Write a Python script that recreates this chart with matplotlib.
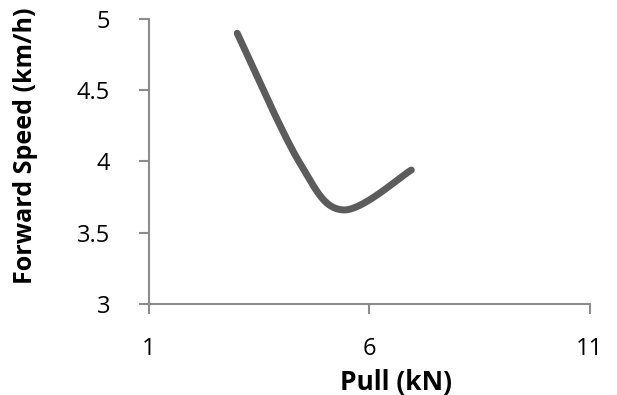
import matplotlib
matplotlib.use("Agg")
import matplotlib.pyplot as plt
import numpy as np

# data
pull_kn = [3.0, 4.4, 5.4, 6.95]
speed_kmh = [4.9, 4.0, 3.66, 3.94]
x_ticks = [1, 6, 11]
y_ticks = [3, 3.5, 4, 4.5, 5]
y_tick_labels = ['3', '3.5', '4', '4.5', '5']


def excel_smooth(xs, ys, n=60):
    """Bezier smoothing like Excel's smoothed line"""
    pts = np.column_stack([xs, ys])
    out = []
    for i in range(len(pts) - 1):
        p0 = pts[i - 1] if i > 0 else pts[i]
        p1 = pts[i]
        p2 = pts[i + 1]
        p3 = pts[i + 2] if i + 2 < len(pts) else pts[i + 1]
        c1 = p1 + (p2 - p0) / 6.0
        c2 = p2 - (p3 - p1) / 6.0
        t = np.linspace(0, 1, n)[:, None]
        seg = ((1 - t) ** 3) * p1 + 3 * ((1 - t) ** 2) * t * c1 + 3 * (1 - t) * t ** 2 * c2 + t ** 3 * p2
        out.append(seg)
    curve = np.vstack(out)
    return curve[:, 0], curve[:, 1]


plt.rcParams['font.family'] = ['Open Sans', 'DejaVu Sans']

fig = plt.figure(figsize=(6.17, 3.95), dpi=100)
ax = fig.add_axes([0.2415, 0.2304, 0.7145, 0.7216])

sx, sy = excel_smooth(pull_kn, speed_kmh)
ax.plot(sx, sy, color='#5c5c5c', linewidth=5, solid_capstyle='round', solid_joinstyle='round')

ax.set_xlim(1, 11)
ax.set_ylim(3, 5)
ax.set_xticks(x_ticks)
ax.set_yticks(y_ticks)
ax.set_yticklabels(y_tick_labels)

for side in ['top', 'right']:
    ax.spines[side].set_visible(False)
for side in ['left', 'bottom']:
    ax.spines[side].set_color('#8c8c8c')
    ax.spines[side].set_linewidth(1.5)

ax.tick_params(axis='x', direction='out', length=7, width=1.5, color='#8c8c8c',
               labelsize=17, pad=17)
ax.tick_params(axis='y', direction='out', length=7, width=1.5, color='#8c8c8c',
               labelsize=17, pad=21)

ax.set_xlabel('Pull (kN)', fontsize=19, fontweight='bold', va='center')
ax.xaxis.set_label_coords(0.56, -0.274)
ax.set_ylabel('Forward Speed (km/h)', fontsize=18, fontweight='bold', va='center')
ax.yaxis.set_label_coords(-0.28, 0.555)

fig.savefig('out.png', dpi=100)
